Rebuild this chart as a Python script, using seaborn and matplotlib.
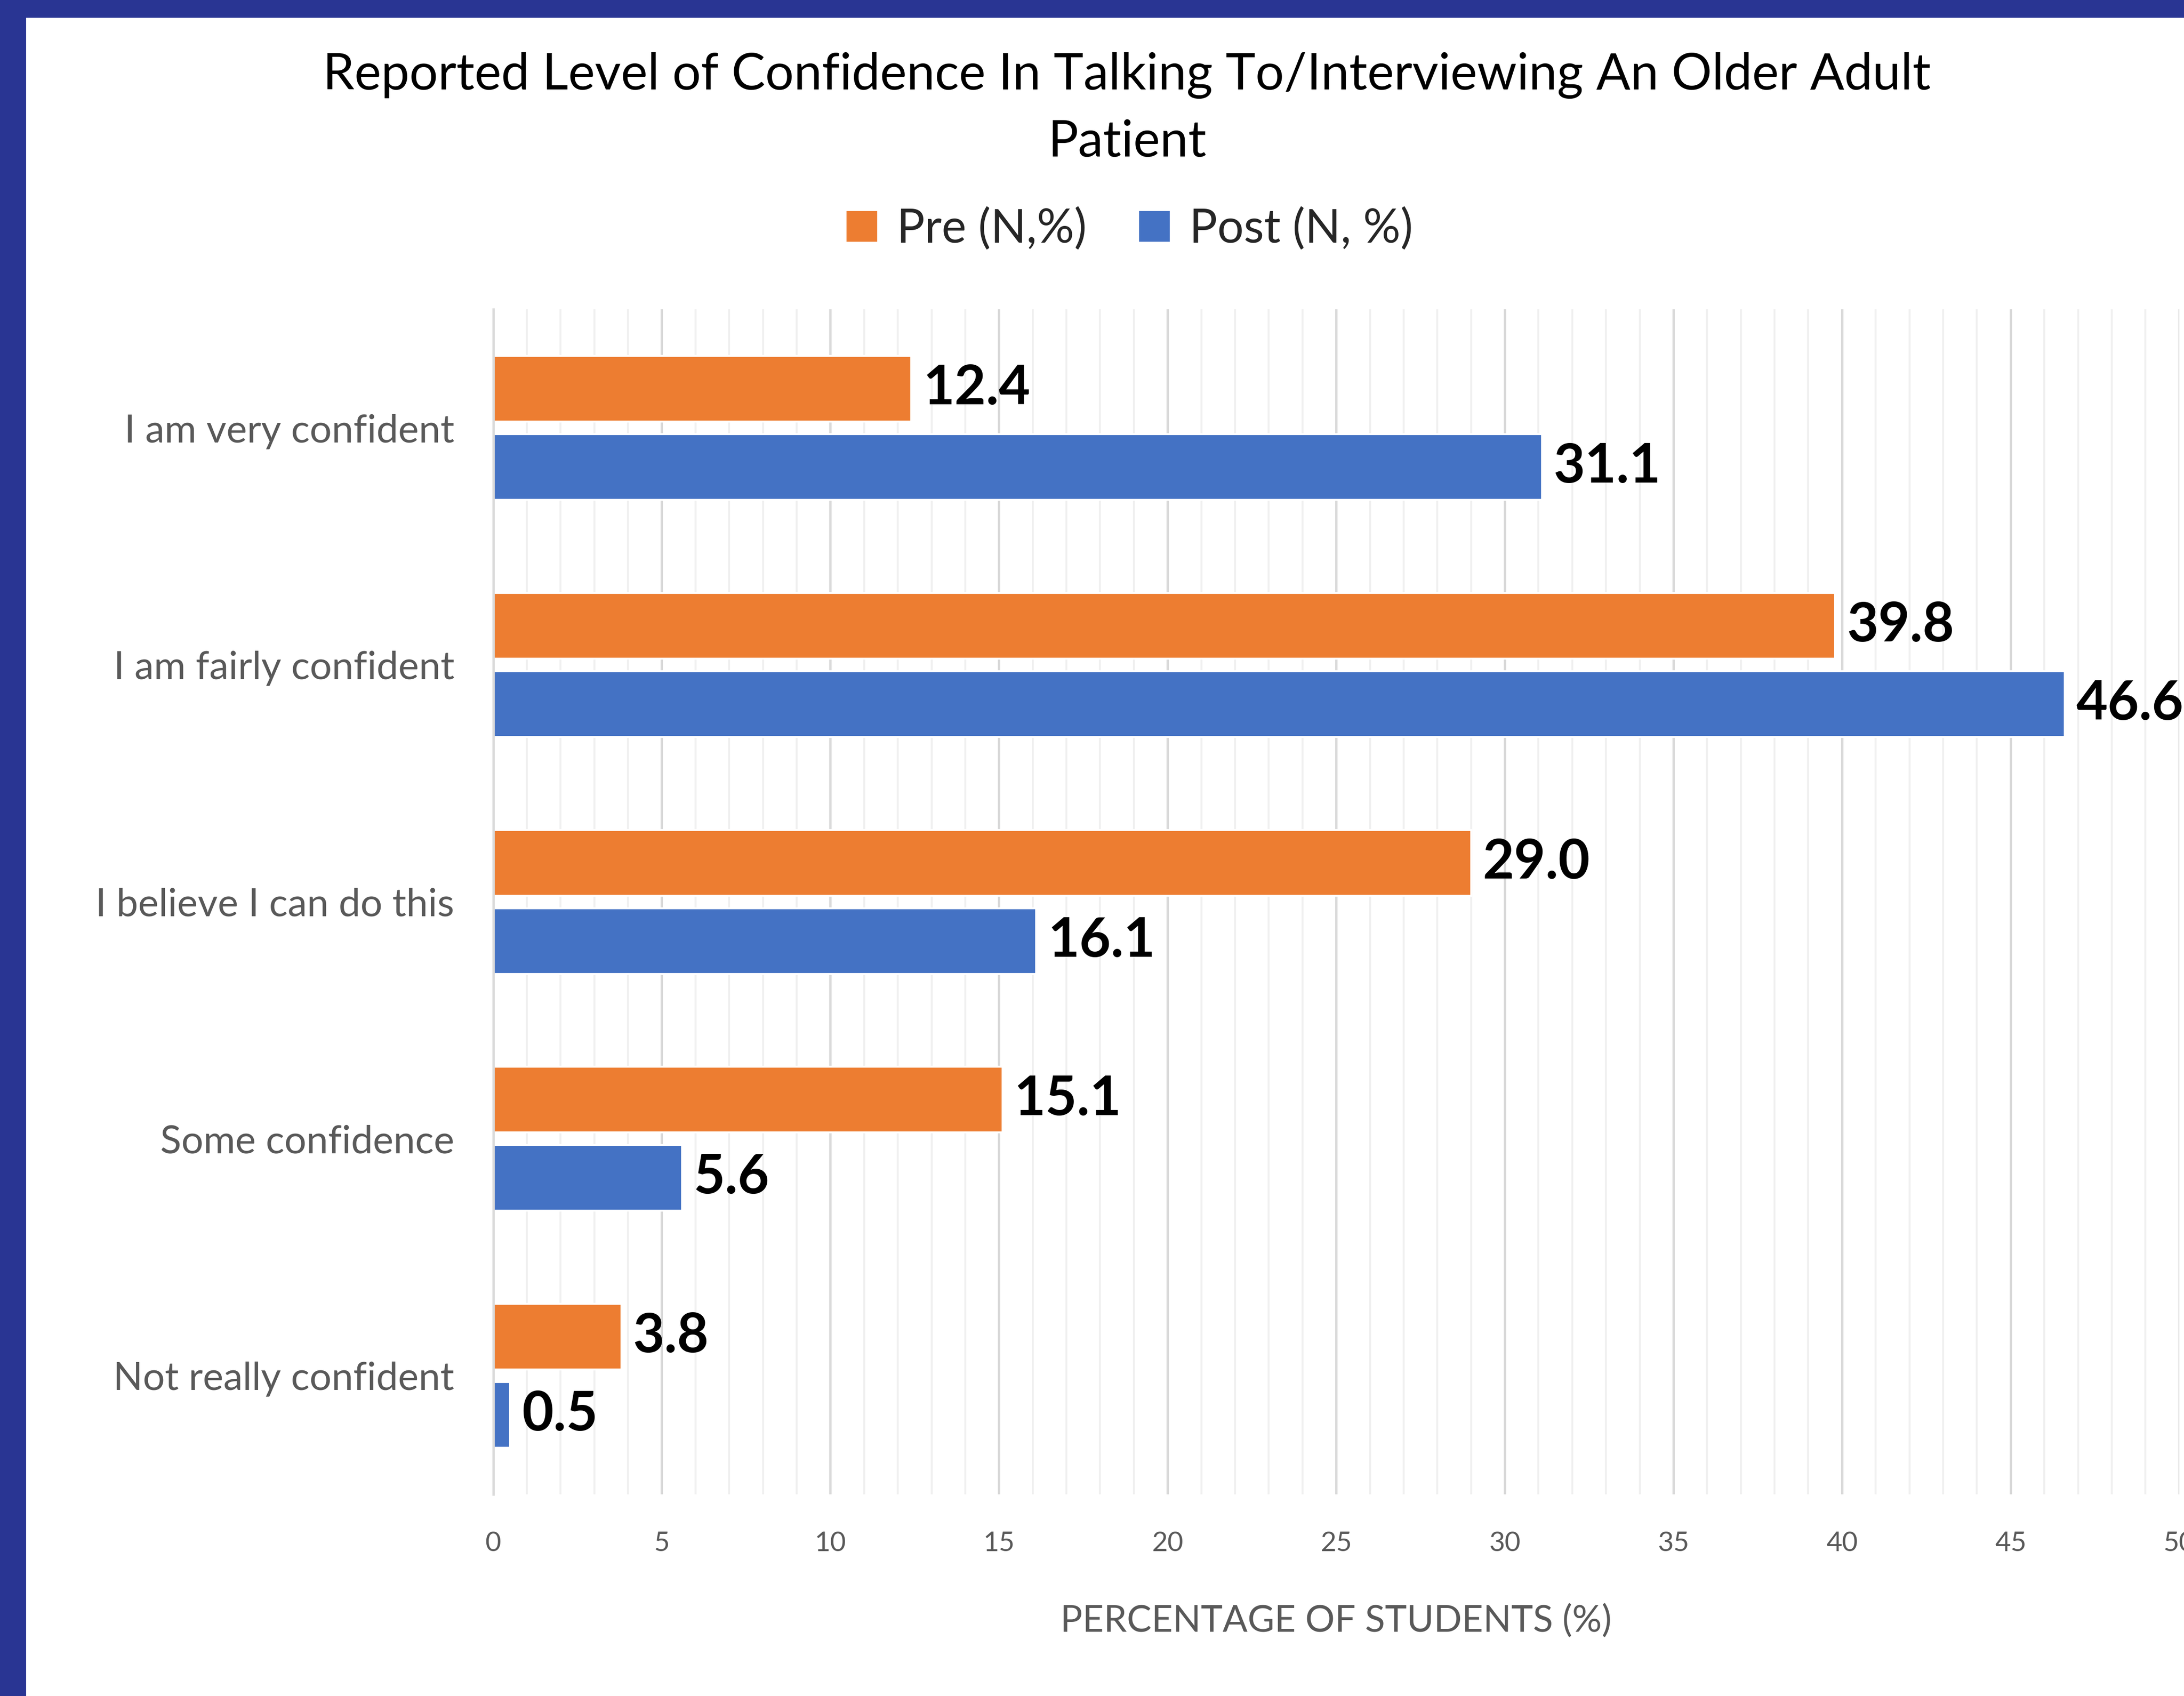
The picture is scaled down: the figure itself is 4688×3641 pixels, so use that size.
import matplotlib
matplotlib.use("Agg")
import matplotlib.pyplot as plt
import seaborn as sns
import numpy as np
import pandas as pd
from matplotlib.patches import Rectangle

# Data
categories = ["I am very confident", "I am fairly confident", "I believe I can do this",
              "Some confidence", "Not really confident"]
pre_values = [12.4, 39.8, 29.0, 15.1, 3.8]
post_values = [31.1, 46.6, 16.1, 5.6, 0.5]
series_names = ["Pre (N,%)", "Post (N, %)"]
x_ticks = [0, 5, 10, 15, 20, 25, 30, 35, 40, 45, 50]

df = pd.DataFrame({
    "level": categories * 2,
    "value": pre_values + post_values,
    "series": [series_names[0]] * len(categories) + [series_names[1]] * len(categories),
})

sns.set_style("white")
plt.rcParams["font.family"] = ["Lato", "DejaVu Sans"]

fig = plt.figure(figsize=(4688 / 300, 3641 / 300), dpi=300)
ax = fig.add_axes([0.2258, 0.119, 0.772, 0.6985])

sns.barplot(data=df, y="level", x="value", hue="series", order=categories,
            hue_order=series_names, palette=["#ED7D31", "#4472C4"], saturation=1,
            width=0.66, gap=0.16, orient="h", ax=ax, legend=True)

# value labels
for cont in ax.containers:
    ax.bar_label(cont, fmt="%.1f", padding=6, fontsize=28, fontweight="bold", color="black")

ax.set_xlim(0, 50)
ax.set_xticks(x_ticks)
ax.set_xticks(np.arange(0, 51, 1), minor=True)
ax.grid(axis="x", which="major", color="#D9D9D9", linewidth=1.2)
ax.grid(axis="x", which="minor", color="#F0F0F0", linewidth=1.0)
ax.set_axisbelow(True)

ax.set_yticks(np.arange(-0.5, len(categories), 1), minor=True)
ax.tick_params(axis="y", which="major", length=0, pad=20, labelsize=20, labelcolor="#595959")
ax.tick_params(axis="y", which="minor", length=6, width=1.2, color="#D9D9D9", direction="out")
ax.tick_params(axis="x", which="both", length=0, pad=19, labelsize=14, labelcolor="#595959")

for s in ["top", "right", "bottom"]:
    ax.spines[s].set_visible(False)
ax.spines["left"].set_color("#D9D9D9")
ax.spines["left"].set_linewidth(1.2)

ax.set_ylabel("")
ax.set_xlabel("PERCENTAGE OF STUDENTS (%)", fontsize=19, color="#595959", labelpad=25)

# legend at the top
handles, labels = ax.get_legend_handles_labels()
ax.get_legend().remove()
fig.legend(handles, labels, loc="center", bbox_to_anchor=(0.517, 0.865), ncol=2,
           frameon=False, fontsize=24, handlelength=0.7, handleheight=0.7,
           handletextpad=0.4, columnspacing=1.1)

fig.text(0.516, 0.936, "Reported Level of Confidence In Talking To/Interviewing An Older Adult\nPatient",
         ha="center", va="center", fontsize=26, color="black", linespacing=1.55)

# dark blue frame on the top and left edges
fig.patches.append(Rectangle((0, 1 - 36 / 3641), 1, 36 / 3641, transform=fig.transFigure,
                             color="#293593", zorder=10))
fig.patches.append(Rectangle((0, 0), 54 / 4688, 1, transform=fig.transFigure,
                             color="#293593", zorder=10))

fig.savefig("out.png", dpi=300)
